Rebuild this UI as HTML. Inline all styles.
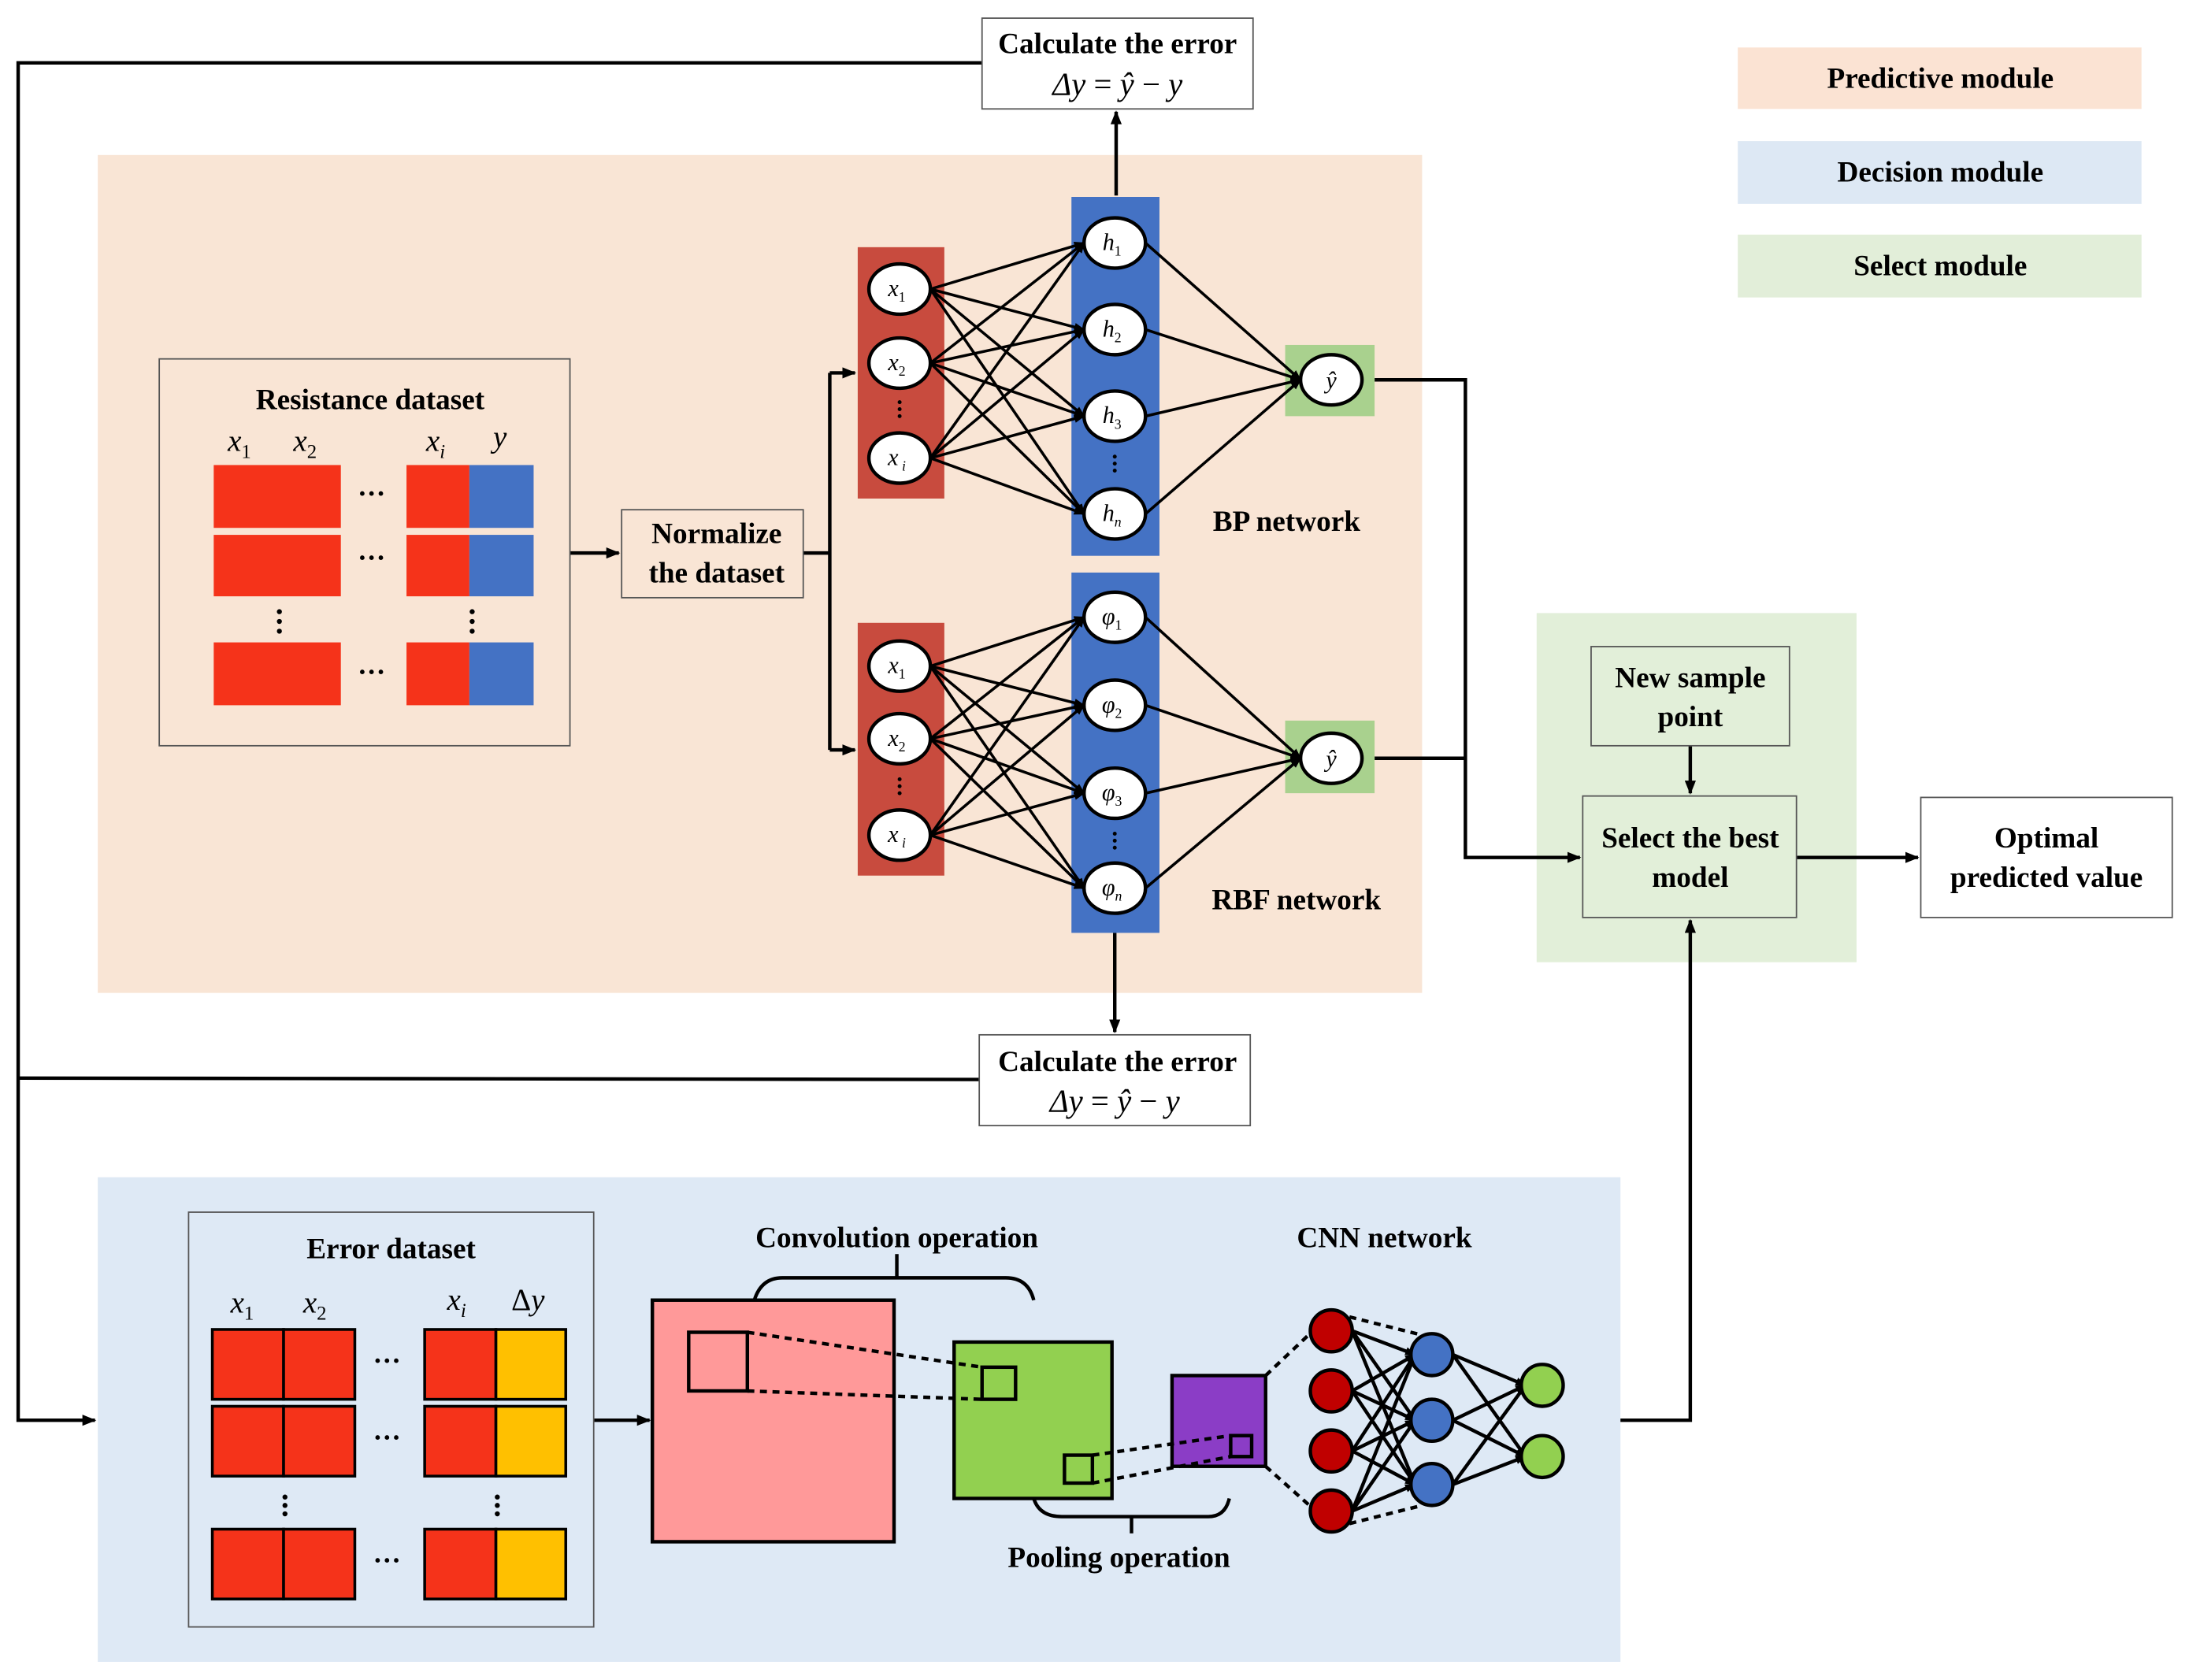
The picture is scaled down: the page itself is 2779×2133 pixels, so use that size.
<!DOCTYPE html>
<html><head><meta charset="utf-8"><style>html,body{margin:0;padding:0;background:#fff}svg{display:block}</style></head><body>
<svg width="2779" height="2133" viewBox="0 0 1567 1203" preserveAspectRatio="none" xmlns="http://www.w3.org/2000/svg" font-family="'Liberation Serif', serif">
<defs>
<marker id="a" markerWidth="10" markerHeight="8" refX="9" refY="4" orient="auto" markerUnits="userSpaceOnUse"><path d="M0,0 L10,4 L0,8 z" fill="#000"/></marker>
<marker id="s" markerWidth="8" markerHeight="6" refX="7" refY="3" orient="auto" markerUnits="userSpaceOnUse"><path d="M0,0 L8,3 L0,6 z" fill="#000"/></marker>
</defs>
<rect width="1567" height="1203" fill="#fff"/>
<rect x="70" y="111" width="948" height="600" fill="#f9e5d5"/>
<rect x="70" y="843" width="1090" height="347" fill="#dee9f5"/>
<rect x="1100" y="439" width="229" height="250" fill="#e2efd9"/>
<rect x="1244" y="34" width="289" height="44" fill="#fbe3d3"/>
<rect x="1244" y="101" width="289" height="45" fill="#dde8f4"/>
<rect x="1244" y="168" width="289" height="45" fill="#e2eed9"/>
<g font-weight="bold" font-size="21" text-anchor="middle">
<text x="1389" y="63">Predictive module</text>
<text x="1389" y="130">Decision module</text>
<text x="1389" y="197">Select module</text>
</g>
<g stroke="#000" stroke-width="2.5" fill="none">
<polyline points="703,45 13,45 13,1017 68,1017" marker-end="url(#a)"/>
<line x1="701" y1="773" x2="13" y2="772"/>
<line x1="799" y1="140" x2="799" y2="80" marker-end="url(#a)"/>
<line x1="798" y1="668" x2="798" y2="739" marker-end="url(#a)"/>
<line x1="408" y1="396" x2="443" y2="396" marker-end="url(#a)"/>
<polyline points="575,396 594,396"/>
<line x1="594" y1="267" x2="594" y2="537"/>
<line x1="594" y1="267" x2="612" y2="267" marker-end="url(#a)"/>
<line x1="594" y1="537" x2="612" y2="537" marker-end="url(#a)"/>
<polyline points="984,272 1049,272 1049,614 1131,614" marker-end="url(#a)"/>
<line x1="984" y1="543" x2="1049" y2="543"/>
<line x1="1210" y1="534" x2="1210" y2="568" marker-end="url(#a)"/>
<line x1="1286" y1="614" x2="1373" y2="614" marker-end="url(#a)"/>
<polyline points="1160,1017 1210,1017 1210,659" marker-end="url(#a)"/>
<line x1="425" y1="1017" x2="465" y2="1017" marker-end="url(#a)"/>
</g>
<rect x="703" y="13" width="194" height="65" fill="#fff" stroke="#555" stroke-width="1"/>
<rect x="701" y="741" width="194" height="65" fill="#fff" stroke="#555" stroke-width="1"/>
<g font-size="21" text-anchor="middle">
<text x="800" y="38" font-weight="bold">Calculate the error</text>
<text x="800" y="68" font-size="23"><tspan font-style="italic">Δy</tspan> = <tspan font-style="italic">ŷ</tspan> − <tspan font-style="italic">y</tspan></text>
<text x="800" y="767" font-weight="bold">Calculate the error</text>
<text x="798" y="796" font-size="23"><tspan font-style="italic">Δy</tspan> = <tspan font-style="italic">ŷ</tspan> − <tspan font-style="italic">y</tspan></text>
</g>
<rect x="114" y="257" width="294" height="277" fill="none" stroke="#555" stroke-width="1"/>
<text x="265" y="293" font-size="21" font-weight="bold" text-anchor="middle">Resistance dataset</text>
<g font-size="22" font-style="italic">
<text x="163" y="323">x<tspan font-size="14" font-style="normal" dy="5">1</tspan></text>
<text x="210" y="323">x<tspan font-size="14" font-style="normal" dy="5">2</tspan></text>
<text x="305" y="323">x<tspan font-size="14" dy="5">i</tspan></text>
<text x="353" y="320">y</text>
</g>
<g fill="#f5331a">
<rect x="153" y="333" width="91" height="45"/><rect x="153" y="383" width="91" height="44"/><rect x="153" y="460" width="91" height="45"/>
<rect x="291" y="333" width="45" height="45"/><rect x="291" y="383" width="45" height="44"/><rect x="291" y="460" width="45" height="45"/>
</g>
<g fill="#4472c4">
<rect x="336" y="333" width="46" height="45"/><rect x="336" y="383" width="46" height="44"/><rect x="336" y="460" width="46" height="45"/>
</g>
<g font-size="20" font-weight="bold" text-anchor="middle">
<text x="266" y="360">···</text><text x="266" y="406">···</text><text x="266" y="488">···</text>
</g>
<g fill="#000"><circle cx="200" cy="438" r="1.8"/><circle cx="200" cy="445" r="1.8"/><circle cx="200" cy="452" r="1.8"/>
<circle cx="338" cy="438" r="1.8"/><circle cx="338" cy="445" r="1.8"/><circle cx="338" cy="452" r="1.8"/></g>
<rect x="445" y="365" width="130" height="63" fill="none" stroke="#555" stroke-width="1"/>
<g font-size="21" font-weight="bold" text-anchor="middle">
<text x="513" y="389">Normalize</text><text x="513" y="417">the dataset</text>
</g>
<rect x="614" y="177" width="62" height="180" fill="#c84b3e"/>
<rect x="767" y="141" width="63" height="257" fill="#4472c4"/>
<rect x="920" y="247" width="64" height="51" fill="#a9d18e"/>
<rect x="614" y="446" width="62" height="181" fill="#c84b3e"/>
<rect x="767" y="410" width="63" height="258" fill="#4472c4"/>
<rect x="920" y="516" width="64" height="52" fill="#a9d18e"/>
<g stroke="#000" stroke-width="2" marker-end="url(#s)">
<line x1="666" y1="207" x2="776" y2="174"/><line x1="666" y1="207" x2="776" y2="236"/><line x1="666" y1="207" x2="776" y2="298"/><line x1="666" y1="207" x2="776" y2="368"/>
<line x1="666" y1="260" x2="776" y2="174"/><line x1="666" y1="260" x2="776" y2="236"/><line x1="666" y1="260" x2="776" y2="298"/><line x1="666" y1="260" x2="776" y2="368"/>
<line x1="666" y1="328" x2="776" y2="174"/><line x1="666" y1="328" x2="776" y2="236"/><line x1="666" y1="328" x2="776" y2="298"/><line x1="666" y1="328" x2="776" y2="368"/>
<line x1="820" y1="174" x2="931" y2="272"/><line x1="820" y1="236" x2="931" y2="272"/><line x1="820" y1="298" x2="931" y2="272"/><line x1="820" y1="368" x2="931" y2="272"/>
<line x1="666" y1="477" x2="776" y2="442"/><line x1="666" y1="477" x2="776" y2="505"/><line x1="666" y1="477" x2="776" y2="568"/><line x1="666" y1="477" x2="776" y2="636"/>
<line x1="666" y1="529" x2="776" y2="442"/><line x1="666" y1="529" x2="776" y2="505"/><line x1="666" y1="529" x2="776" y2="568"/><line x1="666" y1="529" x2="776" y2="636"/>
<line x1="666" y1="598" x2="776" y2="442"/><line x1="666" y1="598" x2="776" y2="505"/><line x1="666" y1="598" x2="776" y2="568"/><line x1="666" y1="598" x2="776" y2="636"/>
<line x1="820" y1="442" x2="931" y2="543"/><line x1="820" y1="505" x2="931" y2="543"/><line x1="820" y1="568" x2="931" y2="543"/><line x1="820" y1="636" x2="931" y2="543"/>
</g>
<g fill="#fff" stroke="#000" stroke-width="2.5">
<ellipse cx="644" cy="207" rx="22" ry="18"/><ellipse cx="644" cy="260" rx="22" ry="18"/><ellipse cx="644" cy="328" rx="22" ry="18"/>
<ellipse cx="798" cy="174" rx="22" ry="18"/><ellipse cx="798" cy="236" rx="22" ry="18"/><ellipse cx="798" cy="298" rx="22" ry="18"/><ellipse cx="798" cy="368" rx="22" ry="18"/>
<ellipse cx="953" cy="272" rx="22" ry="18"/>
<ellipse cx="644" cy="477" rx="22" ry="18"/><ellipse cx="644" cy="529" rx="22" ry="18"/><ellipse cx="644" cy="598" rx="22" ry="18"/>
<ellipse cx="798" cy="442" rx="22" ry="18"/><ellipse cx="798" cy="505" rx="22" ry="18"/><ellipse cx="798" cy="568" rx="22" ry="18"/><ellipse cx="798" cy="636" rx="22" ry="18"/>
<ellipse cx="953" cy="543" rx="22" ry="18"/>
</g>
<g fill="#000"><circle cx="644" cy="288" r="1.4"/><circle cx="644" cy="293" r="1.4"/><circle cx="644" cy="298" r="1.4"/>
<circle cx="798" cy="327" r="1.4"/><circle cx="798" cy="332" r="1.4"/><circle cx="798" cy="337" r="1.4"/>
<circle cx="644" cy="558" r="1.4"/><circle cx="644" cy="563" r="1.4"/><circle cx="644" cy="568" r="1.4"/>
<circle cx="798" cy="597" r="1.4"/><circle cx="798" cy="602" r="1.4"/><circle cx="798" cy="607" r="1.4"/></g>
<g font-size="17" font-style="italic" text-anchor="middle">
<text x="642" y="212">x<tspan font-size="10" font-style="normal" dy="4">1</tspan></text>
<text x="642" y="265">x<tspan font-size="10" font-style="normal" dy="4">2</tspan></text>
<text x="642" y="333">x<tspan font-size="10" dy="4"> i</tspan></text>
<text x="796" y="179">h<tspan font-size="10" font-style="normal" dy="4">1</tspan></text>
<text x="796" y="241">h<tspan font-size="10" font-style="normal" dy="4">2</tspan></text>
<text x="796" y="303">h<tspan font-size="10" font-style="normal" dy="4">3</tspan></text>
<text x="796" y="373">h<tspan font-size="10" dy="4">n</tspan></text>
<text x="953" y="278">ŷ</text>
<text x="642" y="482">x<tspan font-size="10" font-style="normal" dy="4">1</tspan></text>
<text x="642" y="534">x<tspan font-size="10" font-style="normal" dy="4">2</tspan></text>
<text x="642" y="603">x<tspan font-size="10" dy="4"> i</tspan></text>
<text x="796" y="447">φ<tspan font-size="10" font-style="normal" dy="4">1</tspan></text>
<text x="796" y="510">φ<tspan font-size="10" font-style="normal" dy="4">2</tspan></text>
<text x="796" y="573">φ<tspan font-size="10" font-style="normal" dy="4">3</tspan></text>
<text x="796" y="641">φ<tspan font-size="10" dy="4">n</tspan></text>
<text x="953" y="549">ŷ</text>
</g>
<g font-size="21" font-weight="bold" text-anchor="middle">
<text x="921" y="380">BP network</text>
<text x="928" y="651">RBF network</text>
</g>
<rect x="1139" y="463" width="142" height="71" fill="none" stroke="#555" stroke-width="1"/>
<rect x="1133" y="570" width="153" height="87" fill="none" stroke="#555" stroke-width="1"/>
<rect x="1375" y="571" width="180" height="86" fill="#fff" stroke="#555" stroke-width="1"/>
<g font-size="21" font-weight="bold" text-anchor="middle">
<text x="1210" y="492">New sample</text><text x="1210" y="520">point</text>
<text x="1210" y="607">Select the best</text><text x="1210" y="635">model</text>
<text x="1465" y="607">Optimal</text><text x="1465" y="635">predicted value</text>
</g>
<rect x="135" y="868" width="290" height="297" fill="none" stroke="#555" stroke-width="1"/>
<text x="280" y="901" font-size="21" font-weight="bold" text-anchor="middle">Error dataset</text>
<g font-size="22" font-style="italic">
<text x="165" y="940">x<tspan font-size="14" font-style="normal" dy="5">1</tspan></text>
<text x="217" y="940">x<tspan font-size="14" font-style="normal" dy="5">2</tspan></text>
<text x="320" y="938">x<tspan font-size="14" dy="5">i</tspan></text>
<text x="366" y="938"><tspan font-style="normal">Δ</tspan>y</text>
</g>
<g stroke="#000" stroke-width="2">
<g fill="#f5331a">
<rect x="152" y="952" width="51" height="50"/><rect x="203" y="952" width="51" height="50"/>
<rect x="152" y="1007" width="51" height="50"/><rect x="203" y="1007" width="51" height="50"/>
<rect x="152" y="1095" width="51" height="50"/><rect x="203" y="1095" width="51" height="50"/>
<rect x="304" y="952" width="51" height="50"/><rect x="304" y="1007" width="51" height="50"/><rect x="304" y="1095" width="51" height="50"/>
</g>
<g fill="#ffc000">
<rect x="355" y="952" width="50" height="50"/><rect x="355" y="1007" width="50" height="50"/><rect x="355" y="1095" width="50" height="50"/>
</g>
</g>
<g font-size="20" font-weight="bold" text-anchor="middle">
<text x="277" y="981">···</text><text x="277" y="1036">···</text><text x="277" y="1124">···</text>
</g>
<g fill="#000"><circle cx="204" cy="1072" r="1.8"/><circle cx="204" cy="1078" r="1.8"/><circle cx="204" cy="1084" r="1.8"/>
<circle cx="356" cy="1072" r="1.8"/><circle cx="356" cy="1078" r="1.8"/><circle cx="356" cy="1084" r="1.8"/></g>
<g stroke="#000" stroke-width="2.5">
<rect x="467" y="931" width="173" height="173" fill="#ff9999"/>
<rect x="493" y="954" width="42" height="42" fill="none"/>
<rect x="683" y="961" width="113" height="112" fill="#92d050"/>
<rect x="703" y="979" width="24" height="23" fill="none"/>
<rect x="762" y="1042" width="20" height="20" fill="none"/>
<rect x="839" y="985" width="67" height="65" fill="#8b3dc6"/>
<rect x="881" y="1028" width="15" height="15" fill="none"/>
</g>
<g stroke="#000" stroke-width="2.5" stroke-dasharray="5,4" fill="none">
<line x1="535" y1="954" x2="703" y2="979"/><line x1="535" y1="996" x2="703" y2="1002"/>
<line x1="782" y1="1042" x2="881" y2="1028"/><line x1="782" y1="1062" x2="881" y2="1043"/>
<line x1="906" y1="985" x2="943" y2="950"/><line x1="906" y1="1050" x2="943" y2="1083"/>
<line x1="966" y1="943" x2="1018" y2="956"/><line x1="966" y1="1091" x2="1018" y2="1078"/>
</g>
<g stroke="#000" stroke-width="2.5" fill="none">
<path d="M540,931 Q545,915 560,915 L720,915 Q736,915 740,931"/>
<line x1="642" y1="915" x2="642" y2="898"/>
<path d="M740,1073 Q744,1086 760,1086 L865,1086 Q877,1086 880,1073"/>
<line x1="810" y1="1086" x2="810" y2="1098"/>
</g>
<g font-size="21" font-weight="bold" text-anchor="middle">
<text x="642" y="893">Convolution operation</text>
<text x="801" y="1122">Pooling operation</text>
<text x="991" y="893">CNN network</text>
</g>
<g stroke="#000" stroke-width="2.5" marker-end="url(#s)">
<line x1="968" y1="953" x2="1013" y2="970"/><line x1="968" y1="953" x2="1013" y2="1017"/><line x1="968" y1="953" x2="1013" y2="1063"/>
<line x1="968" y1="996" x2="1013" y2="970"/><line x1="968" y1="996" x2="1013" y2="1017"/><line x1="968" y1="996" x2="1013" y2="1063"/>
<line x1="968" y1="1039" x2="1013" y2="970"/><line x1="968" y1="1039" x2="1013" y2="1017"/><line x1="968" y1="1039" x2="1013" y2="1063"/>
<line x1="968" y1="1082" x2="1013" y2="970"/><line x1="968" y1="1082" x2="1013" y2="1017"/><line x1="968" y1="1082" x2="1013" y2="1063"/>
<line x1="1040" y1="970" x2="1092" y2="992"/><line x1="1040" y1="970" x2="1092" y2="1043"/>
<line x1="1040" y1="1017" x2="1092" y2="992"/><line x1="1040" y1="1017" x2="1092" y2="1043"/>
<line x1="1040" y1="1063" x2="1092" y2="992"/><line x1="1040" y1="1063" x2="1092" y2="1043"/>
</g>
<g stroke="#000" stroke-width="2.5">
<g fill="#c00000"><circle cx="953" cy="953" r="15"/><circle cx="953" cy="996" r="15"/><circle cx="953" cy="1039" r="15"/><circle cx="953" cy="1082" r="15"/></g>
<g fill="#4472c4"><circle cx="1025" cy="970" r="15"/><circle cx="1025" cy="1017" r="15"/><circle cx="1025" cy="1063" r="15"/></g>
<g fill="#92d050"><circle cx="1104" cy="992" r="15"/><circle cx="1104" cy="1043" r="15"/></g>
</g>
</svg>
</body></html>
